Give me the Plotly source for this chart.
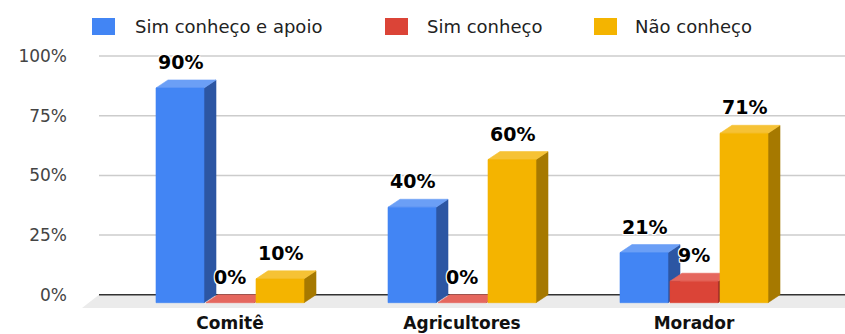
import plotly.graph_objects as go

# ---- data -------------------------------------------------------------
categories = ["Comitê", "Agricultores", "Morador"]
series_names = ["Sim conheço e apoio", "Sim conheço", "Não conheço"]
sim_conheco_apoio = [90, 40, 21]
sim_conheco = [0, 0, 9]
nao_conheco = [10, 60, 71]
y_ticks = [0, 25, 50, 75, 100]
y_tick_labels = ["0%", "25%", "50%", "75%", "100%"]

# ---- styling ----------------------------------------------------------
front_colors = ["#4285f4", "#db4437", "#f4b400"]
top_colors = ["#6b9ff6", "#e5675e", "#f6c235"]
side_colors = ["#2c56a3", "#962e26", "#a67900"]

W, H = 845, 334
ML, MR, MT, MB = 82, 0, 0, 24

# pixel geometry of the category axis / value axis
CAT_PX = 232.0          # pixels between category centres
CAT0_PX = 230.0         # pixel x of first category centre
ZERO_PX = 302.7         # pixel y of value 0 (front plane)
PCT_PX = 2.386          # pixels per percentage point

x_range = [(ML - CAT0_PX) / CAT_PX, (W - MR - CAT0_PX) / CAT_PX]
y_range = [(ZERO_PX - (H - MB)) / PCT_PX, (ZERO_PX - MT) / PCT_PX]

BAR_W = 48 / CAT_PX
PITCH = 50 / CAT_PX
DX = 12 / CAT_PX        # depth offset (x)
DY = 8 / PCT_PX         # depth offset (y)

FONT = "DejaVu Sans"

fig = go.Figure()


def face(xs, ys, color):
    fig.add_trace(go.Scatter(
        x=xs + [xs[0]], y=ys + [ys[0]], mode="lines", fill="toself",
        fillcolor=color, line=dict(color=color, width=0.6),
        hoverinfo="skip", showlegend=False))


all_series = [sim_conheco_apoio, sim_conheco, nao_conheco]
annotations = []
for i, cat in enumerate(categories):
    for j, vals in enumerate(all_series):
        v = vals[i]
        xc = i + (j - 1) * PITCH
        xl, xr = xc - BAR_W / 2, xc + BAR_W / 2
        # side face
        face([xr, xr + DX, xr + DX, xr], [0, DY, v + DY, v], side_colors[j])
        # top face
        face([xl, xl + DX, xr + DX, xr], [v, v + DY, v + DY, v], top_colors[j])
        # front face
        if v > 0:
            face([xl, xr, xr, xl], [0, 0, v, v], front_colors[j])
        annotations.append(dict(
            x=xc, y=v + DY, yshift=18, text=f"{v}%", showarrow=False,
            xanchor="center", yanchor="middle",
            font=dict(family=FONT, size=19, color="#000000", weight="bold",
                      shadow="-1px -1px 0 #fff, 1px -1px 0 #fff, -1px 1px 0 #fff, 1px 1px 0 #fff, 0 0 2px #fff")))

# floor and back-plane gridlines
grid_x0 = (99 - CAT0_PX) / CAT_PX
floor_front = (ZERO_PX - 308) / PCT_PX
shapes = [dict(
    type="path", xref="x", yref="y", layer="below",
    path=f"M {grid_x0},{DY} L {x_range[1]},{DY} L {x_range[1]},{floor_front} "
         f"L {x_range[0]},{floor_front} Z",
    fillcolor="#ebebeb", line=dict(width=0))]
for t in y_ticks:
    shapes.append(dict(
        type="line", xref="x", yref="y", layer="below",
        x0=grid_x0, x1=x_range[1], y0=t + DY, y1=t + DY,
        line=dict(color="#333333" if t == 0 else "#cccccc", width=1.5)))


# legend drawn as swatches + labels
def px_x(p):
    return (p - ML) / (W - ML - MR)


def px_y(p):
    return (H - MB - p) / (H - MT - MB)


legend_swatch_px = [92, 385, 594]
legend_text_px = [133, 425, 633]
for j, name in enumerate(series_names):
    sx = legend_swatch_px[j]
    shapes.append(dict(
        type="rect", xref="paper", yref="paper",
        x0=px_x(sx), x1=px_x(sx + 23), y0=px_y(35), y1=px_y(18),
        fillcolor=front_colors[j], line=dict(width=0)))
    annotations.append(dict(
        xref="paper", yref="paper", x=px_x(legend_text_px[j]), y=px_y(26.5),
        text=name, showarrow=False, xanchor="left", yanchor="middle",
        font=dict(family=FONT, size=18, color="#222222")))

fig.update_layout(
    width=W, height=H, margin=dict(l=ML, r=MR, t=MT, b=MB),
    paper_bgcolor="white", plot_bgcolor="white",
    shapes=shapes, annotations=annotations, showlegend=False,
    xaxis=dict(range=x_range, tickvals=list(range(len(categories))),
               ticktext=categories, showgrid=False, zeroline=False,
               showline=False, ticks="", ticklabelstandoff=1,
               automargin=False,
               tickfont=dict(family=FONT, size=17, color="#111111",
                             weight="bold"), fixedrange=True),
    yaxis=dict(range=y_range, tickvals=[t + DY for t in y_ticks],
               ticktext=y_tick_labels, showgrid=False, zeroline=False,
               showline=False, ticks="", ticklabelstandoff=14,
               automargin=False,
               tickfont=dict(family=FONT, size=17, color="#444444"),
               fixedrange=True),
)

fig.write_html("out.html")
